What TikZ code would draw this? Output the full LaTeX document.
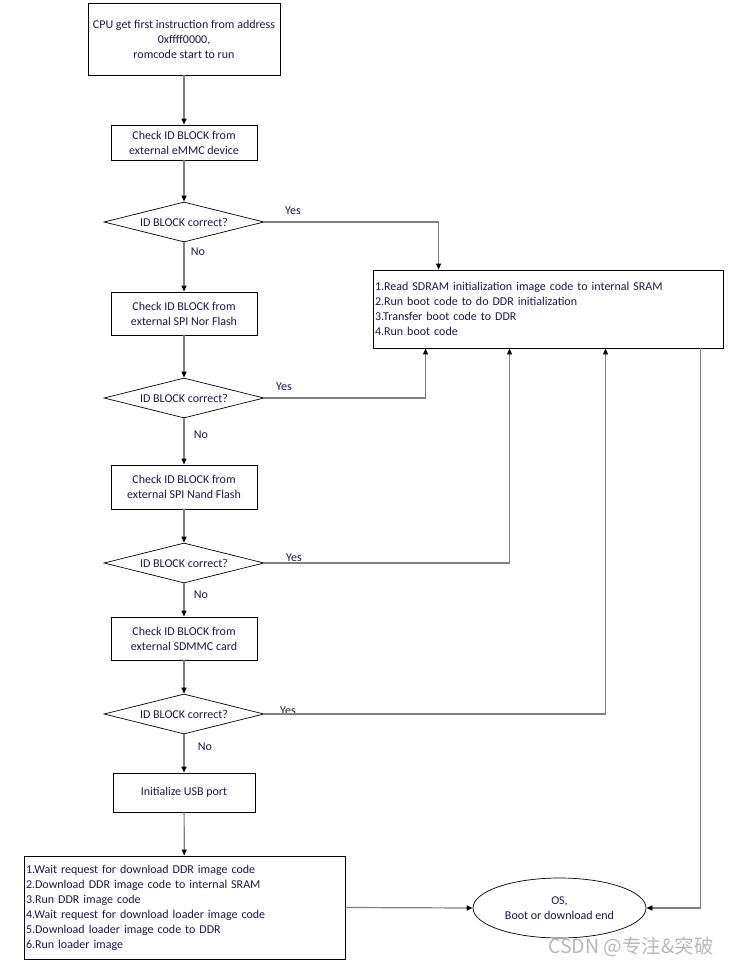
\documentclass[tikz,border=0pt]{standalone}
\usepackage{fontspec}
\setmainfont{Carlito}
\newfontfamily\cjkfont{Noto Sans CJK SC}
\usetikzlibrary{shapes.geometric,arrows.meta}
\definecolor{txt}{RGB}{25,25,70}
\definecolor{conn}{RGB}{128,128,128}
\tikzset{
  base/.style={font=\fontsize{12}{15}\selectfont, text=txt},
  box/.style={base, draw=black, line width=0.9pt, rectangle, align=center, inner sep=2pt},
  listbox/.style={base, draw=black, line width=0.9pt, rectangle, align=left, inner sep=2pt},
  decide/.style={base, draw=black, line width=0.7pt, diamond, aspect=5, inner sep=0pt, minimum width=160pt, minimum height=40pt},
  endnode/.style={base, draw=black, line width=0.7pt, ellipse, align=center, minimum width=173pt, minimum height=60pt, inner sep=0pt},
  lbl/.style={base, inner sep=0pt},
  arr/.style={draw=conn, line width=1.2pt, -{Triangle[black,length=6pt,width=5pt]}},
}
\begin{document}
\begin{tikzpicture}[x=1pt,y=-1pt]
\useasboundingbox (0,0) rectangle (729,968);
\node[box, minimum width=192pt, minimum height=72pt] (start) at (184,39)
  {CPU get first instruction from address\\0xffff0000,\\romcode start to run};
\node[box, minimum width=146pt, minimum height=35pt] (emmc) at (184,142.5)
  {Check ID BLOCK from\\external eMMC device};
\node[decide] (d1) at (184,222) {ID BLOCK correct?};
\node[box, minimum width=146pt, minimum height=43pt] (nor) at (184,313.5)
  {Check ID BLOCK from\\external SPI Nor Flash};
\node[decide] (d2) at (184,398) {ID BLOCK correct?};
\node[box, minimum width=146pt, minimum height=44pt] (nand) at (184,487)
  {Check ID BLOCK from\\external SPI Nand Flash};
\node[decide] (d3) at (184,563) {ID BLOCK correct?};
\node[box, minimum width=146pt, minimum height=43pt] (sdmmc) at (184,638.5)
  {Check ID BLOCK from\\external SDMMC card};
\node[decide] (d4) at (184,714) {ID BLOCK correct?};
\node[box, minimum width=142pt, minimum height=39pt] (usb) at (184,792.5)
  {Initialize USB port};
\node[listbox, text width=346pt, minimum height=78pt] (sdram) at (548,309)
  {1.Read SDRAM initialization image code to internal SRAM\\2.Run boot code to do DDR initialization\\3.Transfer boot code to DDR\\4.Run boot code};
\node[listbox, text width=317pt, minimum height=103pt] (dl) at (184.5,907.5)
  {1.Wait request for download DDR image code\\2.Download DDR image code to internal SRAM\\3.Run DDR image code\\4.Wait request for download loader image code\\5.Download loader image code to DDR\\6.Run loader image};
\node[endnode] (os) at (559.5,908) {OS,\\Boot or download end};

\node[lbl] (y1) at (293,211) {Yes};
\node[lbl] (n1) at (198,252) {No};
\node[lbl] (y2) at (284,387) {Yes};
\node[lbl] (n2) at (201,435) {No};
\node[lbl] (y3) at (294,558) {Yes};
\node[lbl] (n3) at (201,595) {No};
\node[lbl] (y4) at (288,711) {Yes};
\node[lbl] (n4) at (205,747) {No};

\draw[arr] (start) -- (emmc);
\draw[arr] (emmc) -- (d1);
\draw[arr] (d1) -- (nor);
\draw[arr] (nor) -- (d2);
\draw[arr] (d2) -- (nand);
\draw[arr] (nand) -- (d3);
\draw[arr] (d3) -- (sdmmc);
\draw[arr] (sdmmc) -- (d4);
\draw[arr] (d4) -- (usb);
\draw[arr] (usb) -- (dl);
\draw[arr] (d1.east) -| ([xshift=66pt]sdram.north west);
\draw[arr] (d2.east) -| ([xshift=53pt]sdram.south west);
\draw[arr] (d3.east) -| ([xshift=137pt]sdram.south west);
\draw[arr] (d4.east) -| ([xshift=233pt]sdram.south west);
\draw[arr] ([xshift=-23pt]sdram.south east) |- (os.east);
\draw[arr] (dl.east) -- (os.west);

\node[font=\cjkfont\fontsize{19.5}{20}\selectfont, text=black!28, inner sep=0pt] (wm) at (631,947) {CSDN @专注\&突破};
\end{tikzpicture}
\end{document}
